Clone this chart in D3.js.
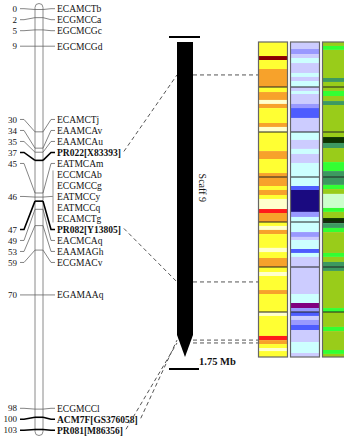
<!DOCTYPE html>
<html>
<head>
<meta charset="utf-8">
<script src="https://cdn.jsdelivr.net/npm/d3@7/dist/d3.min.js"></script>
<style>
  body { margin: 0; background: #fff; }
  svg { display: block; }
  text { font-family: "Liberation Serif", "Times New Roman", serif; fill: #111; }
</style>
</head>
<body>
<svg id="chart" width="344" height="443"></svg>
<script>
// genetic map: marker names and positions (cM)
const markerNames = ['ECAMCTb', 'ECGMCCa', 'EGCMCGc', 'EGCMCGd', 'ECAMCTj', 'EAAMCAv', 'EAAMCAu',
  'PR022[X83393]', 'EATMCAm', 'ECCMCAb', 'ECGMCCg', 'EATMCCy', 'EATMCCq', 'ECAMCTg',
  'PR082[Y13805]', 'EACMCAq', 'EAAMAGh', 'ECGMACv', 'EGAMAAq', 'ECGMCCl', 'ACM7F[GS376058]', 'PR081[M86356]'];
const markerPos = [0, 2, 5, 9, 30, 34, 35, 37, 45, 46, 46, 46, 46, 46, 47, 49, 53, 59, 70, 98, 100, 103];
const boldMarkers = ['PR022[X83393]', 'PR082[Y13805]', 'ACM7F[GS376058]', 'PR081[M86356]'];

// anchoring of the bold markers on the scaffold (Mb)
const anchorNames = ['PR022[X83393]', 'PR082[Y13805]', 'ACM7F[GS376058]', 'PR081[M86356]'];
const anchorMb = [0.183, 1.333, 1.656, 1.672];

const scaffoldName = 'Scaff 9';
const scaffoldLength = 1.75;
const blockBreaks = [0.25, 0.5, 0.75, 1.0, 1.25, 1.5];

// heat tracks: [start Mb, colour level]
const track1Colors = ['#ffff33', '#ffffcc', '#f7a22b', '#ff1a1a', '#8b0000'];
const track1 = [[0, 0], [0.078, 4], [0.1, 0], [0.15, 2], [0.25, 0], [0.278, 2], [0.322, 1], [0.344, 2],
  [0.367, 0], [0.45, 2], [0.472, 1], [0.5, 0], [0.606, 2], [0.65, 0], [0.728, 2], [0.8, 0], [0.822, 2],
  [0.85, 0], [0.872, 1], [0.928, 3], [0.95, 2], [1.0, 0], [1.022, 1], [1.044, 2], [1.067, 0], [1.144, 1],
  [1.167, 0], [1.2, 2], [1.25, 0], [1.278, 1], [1.3, 0], [1.378, 2], [1.4, 0], [1.5, 1], [1.522, 0],
  [1.633, 3], [1.656, 2], [1.678, 0], [1.7, 1], [1.717, 0]];

const track2Colors = ['#ccccff', '#ccffff', '#9999ff', '#4d5cff', '#1a0a80', '#800080'];
const track2 = [[0, 0], [0.039, 2], [0.067, 0], [0.089, 1], [0.117, 0], [0.172, 1], [0.194, 0], [0.217, 1],
  [0.25, 0], [0.272, 1], [0.289, 0], [0.344, 2], [0.367, 3], [0.422, 0], [0.5, 1], [0.544, 0], [0.594, 1],
  [0.622, 0], [0.672, 1], [0.8, 3], [0.822, 4], [0.944, 2], [0.972, 1], [1.056, 2], [1.083, 0], [1.1, 1],
  [1.15, 3], [1.172, 1], [1.194, 0], [1.4, 1], [1.45, 5], [1.478, 2], [1.5, 3], [1.522, 0], [1.544, 2],
  [1.572, 3], [1.6, 0], [1.667, 1], [1.728, 0]];

const track3Colors = ['#99cc1a', '#33ff33', '#3d9960', '#0d3300', '#ccffcc'];
const track3 = [[0, 0], [0.022, 1], [0.044, 0], [0.2, 2], [0.222, 0], [0.272, 1], [0.3, 0], [0.328, 2],
  [0.35, 0], [0.528, 3], [0.561, 2], [0.589, 0], [0.667, 1], [0.717, 2], [0.794, 1], [0.817, 0], [0.844, 4],
  [0.922, 1], [0.944, 0], [0.978, 3], [1.006, 2], [1.033, 1], [1.056, 0], [1.172, 1], [1.194, 0], [1.222, 2],
  [1.272, 0], [1.478, 1], [1.5, 0], [1.583, 1], [1.606, 0], [1.711, 1], [1.733, 0]];

const svg = d3.select('#chart');

// ---- linkage group ----
const yCm = d3.scaleLinear().domain([0, 103]).range([9.5, 429.5]);
const chrX0 = 35, chrX1 = 43, labelX = 57, numX = 17;
const gap = 11;

// spread labels in clusters centred on their span
function spread(ys, step) {
  const cl = ys.map((y, i) => ({ i0: i, i1: i }));
  const place = c => {
    const mid = (ys[c.i0] + ys[c.i1]) / 2;
    c.top = mid - (c.i1 - c.i0) * step / 2;
    c.bot = c.top + (c.i1 - c.i0) * step;
  };
  cl.forEach(place);
  let changed = true;
  while (changed) {
    changed = false;
    for (let k = 0; k < cl.length - 1; k++) {
      if (cl[k + 1].top - cl[k].bot < step) {
        cl[k].i1 = cl[k + 1].i1; place(cl[k]); cl.splice(k + 1, 1); changed = true; break;
      }
    }
  }
  const out = [];
  cl.forEach(c => { for (let i = c.i0; i <= c.i1; i++) out[i] = c.top + (i - c.i0) * step; });
  return out;
}

const labelY = spread(markerPos.map(yCm), gap);
const markers = markerNames.map((n, i) => ({ name: n, pos: markerPos[i], ly: labelY[i], bold: boldMarkers.includes(n) }));

// unique positions (one number / connector each)
const positions = d3.groups(markers, d => d.pos).map(([pos, ms]) => ({
  pos, ms, ly: d3.mean(ms, m => m.ly), bold: ms.some(m => m.bold)
}));

const lg = svg.append('g').attr('class', 'linkage');

lg.append('rect')
  .attr('x', chrX0).attr('width', chrX1 - chrX0)
  .attr('y', yCm(0) - 6).attr('height', yCm(103) - yCm(0) + 12)
  .attr('rx', 4).attr('fill', 'none').attr('stroke', '#8a8a8a').attr('stroke-width', 1);

const stroke = d => d.bold ? '#000' : '#666';
const sw = d => d.bold ? 1.6 : 0.8;

lg.selectAll('.cross').data(positions).enter().append('line')
  .attr('x1', chrX0).attr('x2', chrX1)
  .attr('y1', d => yCm(d.pos)).attr('y2', d => yCm(d.pos))
  .attr('stroke', stroke).attr('stroke-width', sw);

lg.selectAll('.lconn').data(positions).enter().append('path')
  .attr('d', d => `M${numX + 3},${d.ly}L${numX + 7},${d.ly}L${chrX0},${yCm(d.pos)}`)
  .attr('fill', 'none').attr('stroke', stroke).attr('stroke-width', sw);

lg.selectAll('.rconn').data(positions).enter().append('path')
  .attr('d', d => `M${chrX1},${yCm(d.pos)}L${labelX - 6},${d.ly}L${labelX - (d.ms.length > 1 ? 4 : 2)},${d.ly}`)
  .attr('fill', 'none').attr('stroke', stroke).attr('stroke-width', sw);

// bracket for grouped markers
positions.filter(d => d.ms.length > 1).forEach(d => {
  lg.append('line')
    .attr('x1', labelX - 4).attr('x2', labelX - 4)
    .attr('y1', d.ms[0].ly - 4).attr('y2', d.ms[d.ms.length - 1].ly + 4)
    .attr('stroke', '#999').attr('stroke-width', 1);
});

lg.selectAll('.num').data(positions).enter().append('text')
  .attr('x', numX).attr('y', d => d.ly).attr('dy', '0.35em')
  .attr('text-anchor', 'end').style('font-size', '9px')
  .text(d => d.pos);

const labels = lg.selectAll('.lab').data(markers).enter().append('text')
  .attr('x', labelX).attr('y', d => d.ly).attr('dy', '0.35em')
  .style('font-size', '9.5px').style('font-weight', d => d.bold ? 'bold' : 'normal')
  .text(d => d.name);

// ---- scaffold ----
const yMb = d3.scaleLinear().domain([0, scaffoldLength]).range([42, 357]);
const barX0 = 177, barX1 = 193, tipLen = 22;

const heatX = d3.scaleBand().domain([0, 1, 2]).range([258.5, 351.5]).paddingInner(3 / 32).paddingOuter(0);

// dashed anchors
const dg = svg.append('g');
anchorNames.forEach((n, i) => {
  const lab = labels.filter(d => d.name === n);
  const m = lab.datum();
  const endX = labelX + lab.node().getComputedTextLength() + 3;
  dg.append('line')
    .attr('x1', endX).attr('y1', m.ly - 1)
    .attr('x2', barX0).attr('y2', yMb(anchorMb[i]));
  dg.append('line')
    .attr('x1', barX1).attr('y1', yMb(anchorMb[i]))
    .attr('x2', heatX(0)).attr('y2', yMb(anchorMb[i]));
});
dg.selectAll('line').attr('stroke', '#555').attr('stroke-width', 1).attr('stroke-dasharray', '4,3');

const sg = svg.append('g');
const y0 = yMb(0), y1 = yMb(scaffoldLength);
sg.append('path')
  .attr('d', `M${barX0},${y0}L${barX1},${y0}L${barX1},${y1 - tipLen}L${(barX0 + barX1) / 2},${y1}L${barX0},${y1 - tipLen}Z`)
  .attr('fill', '#000');
sg.append('line').attr('x1', 169).attr('x2', 200).attr('y1', y0 - 5).attr('y2', y0 - 5)
  .attr('stroke', '#000').attr('stroke-width', 2);
sg.append('line').attr('x1', 169).attr('x2', 199).attr('y1', y1 + 12).attr('y2', y1 + 12)
  .attr('stroke', '#000').attr('stroke-width', 2);
sg.append('text').attr('x', 199).attr('y', y1 + 8)
  .style('font-size', '10.5px').style('font-weight', 'bold')
  .text(scaffoldLength + ' Mb');
sg.append('text')
  .attr('transform', `translate(199,${yMb(0.81)}) rotate(90)`)
  .attr('text-anchor', 'middle')
  .style('font-size', '10px')
  .text(scaffoldName);

// ---- heat tracks ----
const tracks = [[track1, track1Colors], [track2, track2Colors], [track3, track3Colors]];
const hg = svg.append('g');
tracks.forEach(([segs, cols], k) => {
  const g = hg.append('g');
  const data = segs.map((s, i) => ({ start: s[0], end: i < segs.length - 1 ? segs[i + 1][0] : scaffoldLength, lvl: s[1] }));
  g.selectAll('rect').data(data).enter().append('rect')
    .attr('x', heatX(k)).attr('width', heatX.bandwidth())
    .attr('y', d => yMb(d.start)).attr('height', d => yMb(d.end) - yMb(d.start))
    .attr('fill', d => cols[d.lvl]);
  g.selectAll('.brk').data(blockBreaks).enter().append('line')
    .attr('x1', heatX(k)).attr('x2', heatX(k) + heatX.bandwidth())
    .attr('y1', d => yMb(d)).attr('y2', d => yMb(d))
    .attr('stroke', '#222').attr('stroke-width', 1);
  g.append('rect')
    .attr('x', heatX(k)).attr('width', heatX.bandwidth())
    .attr('y', y0).attr('height', y1 - y0)
    .attr('fill', 'none').attr('stroke', '#666').attr('stroke-width', 1.2);
});
</script>
</body>
</html>
